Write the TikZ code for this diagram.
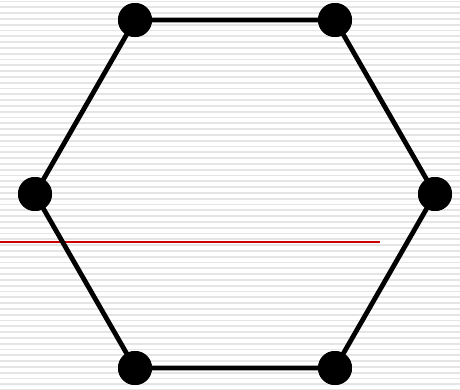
\documentclass[tikz,border=0pt]{standalone}
\definecolor{redline}{RGB}{204,0,0}
\begin{document}
\begin{tikzpicture}[x=1pt,y=-1pt,
  dot/.style={circle,fill=black,minimum size=34pt,inner sep=0pt},
  edge/.style={line width=4.8pt,black},
  stripe/.style={line width=1.8pt,color=black!10}]
\useasboundingbox (0,0) rectangle (460,389);
\fill[white] (0,0) rectangle (460,389);
\foreach \i in {0,...,67} {
  \draw[stripe] (0,{1.5+5.8*\i}) -- (460,{1.5+5.8*\i});
}
\coordinate (r1) at (0,241.5);
\coordinate (r2) at (380,241.5);
\draw[draw=redline,line width=2pt] (r1) -- (r2);
\node[dot] (a) at (135,20) {};
\node[dot] (b) at (335,20) {};
\node[dot] (c) at (435,194) {};
\node[dot] (d) at (335,368) {};
\node[dot] (e) at (135,368) {};
\node[dot] (f) at (35,194) {};
\draw[edge] (a.center) -- (b.center) -- (c.center) -- (d.center) -- (e.center) -- (f.center) -- (a.center);
\foreach \n in {a,b,c,d,e,f} { \fill (\n) circle (17pt); }
\end{tikzpicture}
\end{document}
